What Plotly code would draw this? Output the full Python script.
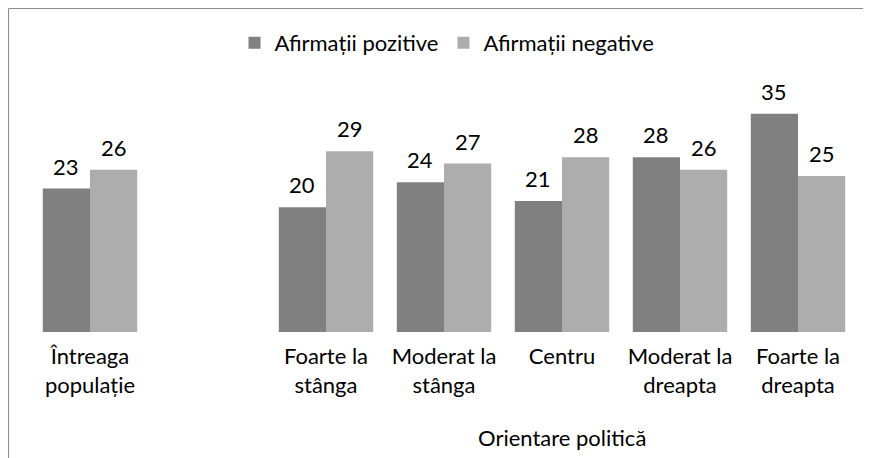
import plotly.graph_objects as go

categories = ["Întreaga<br>populație", " ", "Foarte la<br>stânga", "Moderat la<br>stânga",
              "Centru", "Moderat la<br>dreapta", "Foarte la<br>dreapta"]
pozitive = [23, None, 20, 24, 21, 28, 35]
negative = [26, None, 29, 27, 28, 26, 25]
series_names = ["Afirmații pozitive", "Afirmații negative"]
axis_title = "Orientare politică"

FONT = "Lato, 'Open Sans', sans-serif"
FS = 22

# page is offset by the 8px body margin; figure drawn at (8,8)
W, H = 863, 450
L, R, T, B = 23, 14, 87, 126
PW, PH = W - L - R, H - T - B
BARGAP = 0.2
bar_px = PW / len(categories) * (1 - BARGAP) / 2

fig = go.Figure()
fig.add_trace(go.Bar(x=categories, y=pozitive, name=series_names[0],
                     marker=dict(color="#808080", line=dict(width=0))))
fig.add_trace(go.Bar(x=categories, y=negative, name=series_names[1],
                     marker=dict(color="#ADADAD", line=dict(width=0))))

annotations = []
for vals, sh in ((pozitive, -bar_px / 2), (negative, bar_px / 2)):
    for c, v in zip(categories, vals):
        if v is None:
            continue
        annotations.append(dict(x=c, y=v, xref="x", yref="y", text=str(v), showarrow=False,
                                xshift=sh, yshift=7, yanchor="bottom", xanchor="center",
                                font=dict(size=FS, color="#000000", family=FONT)))
annotations.append(dict(text=axis_title, xref="paper", yref="paper",
                        x=(562 - 31) / 826, y=(332 - 437) / PH, xanchor="center", yanchor="middle",
                        showarrow=False, font=dict(size=FS)))

fig.update_layout(
    width=W, height=H,
    margin=dict(l=L, r=R, t=T, b=B),
    paper_bgcolor="white", plot_bgcolor="white",
    barmode="group", bargap=BARGAP, bargroupgap=0,
    font=dict(family=FONT, size=FS, color="#000000"),
    legend=dict(orientation="h", x=(447 - 31) / 826, xanchor="center",
                y=(324 - 35) / PH, yanchor="middle",
                font=dict(size=FS), itemwidth=30, traceorder="normal"),
    xaxis=dict(type="category", categoryorder="array", categoryarray=categories,
               showgrid=False, showline=False, ticks="", zeroline=False,
               tickfont=dict(size=FS), ticklabelstandoff=9),
    yaxis=dict(range=[0, 38], visible=False),
    shapes=[dict(type="rect", xref="paper", yref="paper",
                 x0=(0.5 - L) / PW, x1=1.1, y0=-0.7, y1=(324 - 0.5) / PH,
                 line=dict(color="#8c8c8c", width=1), fillcolor="rgba(0,0,0,0)", layer="below")],
    annotations=annotations,
)

fig.write_html("out.html")
